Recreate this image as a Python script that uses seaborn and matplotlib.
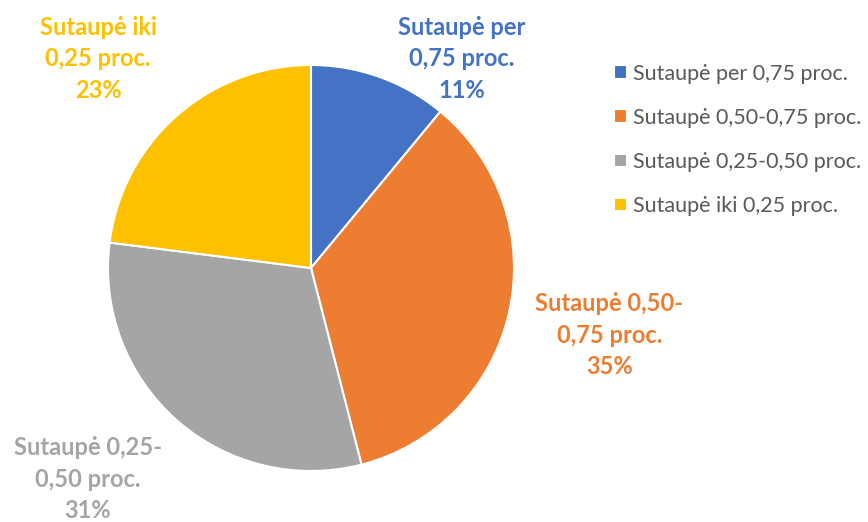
import matplotlib
matplotlib.use("Agg")
import matplotlib.pyplot as plt
import seaborn as sns

categories = ["Sutaupė per 0,75 proc.", "Sutaupė 0,50-0,75 proc.",
              "Sutaupė 0,25-0,50 proc.", "Sutaupė iki 0,25 proc."]
label_lines = ["Sutaupė per\n0,75 proc.", "Sutaupė 0,50-\n0,75 proc.",
               "Sutaupė 0,25-\n0,50 proc.", "Sutaupė iki\n0,25 proc."]
shares = [11, 35, 31, 23]
colors = ["#4472C4", "#ED7D31", "#A5A5A5", "#FFC000"]

# where the data labels sit (axes fraction)
label_pos = [(0.532, 0.887), (0.702, 0.358), (0.101, 0.082), (0.113, 0.887)]

sns.set_theme(style="white")
plt.rcParams["font.family"] = ["Lato", "DejaVu Sans"]

fig = plt.figure(figsize=(8.68, 5.22), dpi=100)
ax = fig.add_axes([0, 0, 1, 1])

wedges, _ = ax.pie(shares, colors=colors, startangle=90, counterclock=False,
                   center=(311, 254), radius=203, frame=True,
                   wedgeprops=dict(edgecolor="white", linewidth=1.5))
ax.set_xlim(0, 868)
ax.set_ylim(0, 522)
ax.set_aspect("equal")
ax.axis("off")

for txt, val, col, pos in zip(label_lines, shares, colors, label_pos):
    ax.text(pos[0], pos[1], f"{txt}\n{val}%", transform=ax.transAxes,
            ha="center", va="center", color=col, fontsize=17,
            fontweight="bold", linespacing=1.45)

leg = ax.legend(wedges, categories, loc="upper left",
                bbox_to_anchor=(0.685, 0.915), frameon=False,
                fontsize=15.5, handlelength=0.6, handleheight=0.6,
                handletextpad=0.3, labelspacing=1.12, labelcolor="#595959")

fig.savefig("out.png", dpi=100)
